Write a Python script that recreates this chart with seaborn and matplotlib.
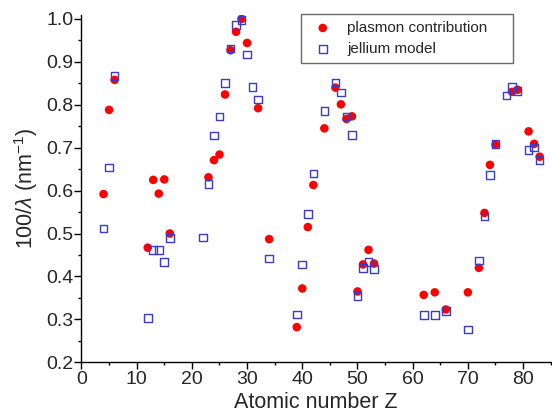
import numpy as np
import pandas as pd
import matplotlib
matplotlib.use('Agg')
import matplotlib.pyplot as plt
from matplotlib.ticker import MultipleLocator, FormatStrFormatter
import seaborn as sns

# plasmon contribution (filled red circles)
z_plasmon = [4, 5, 6, 12, 13, 14, 15, 16, 23, 24, 25, 26, 27, 28, 29, 30, 32, 34,
             39, 40, 41, 42, 44, 46, 47, 48, 49, 50, 51, 52, 53, 62, 64, 66, 70,
             72, 73, 74, 75, 78, 79, 81, 82, 83]
v_plasmon = [0.592, 0.788, 0.858, 0.467, 0.625, 0.593, 0.626, 0.500, 0.631, 0.671,
             0.684, 0.824, 0.927, 0.970, 1.000, 0.944, 0.792, 0.487, 0.282, 0.372,
             0.515, 0.613, 0.745, 0.840, 0.801, 0.767, 0.773, 0.365, 0.428, 0.462,
             0.430, 0.357, 0.363, 0.323, 0.363, 0.420, 0.548, 0.660, 0.707, 0.830,
             0.835, 0.738, 0.709, 0.679]

# jellium model (open blue squares)
z_jellium = [4, 5, 6, 12, 13, 14, 15, 16, 22, 23, 24, 25, 26, 27, 28, 29, 30, 31,
             32, 34, 39, 40, 41, 42, 44, 46, 47, 48, 49, 50, 51, 52, 53, 62, 64, 66,
             70, 72, 73, 74, 75, 77, 78, 79, 81, 82, 83]
v_jellium = [0.512, 0.654, 0.867, 0.303, 0.462, 0.462, 0.434, 0.490, 0.491, 0.615,
             0.728, 0.773, 0.850, 0.931, 0.986, 0.998, 0.917, 0.842, 0.812, 0.442,
             0.311, 0.428, 0.545, 0.640, 0.785, 0.852, 0.829, 0.773, 0.729, 0.354,
             0.420, 0.434, 0.417, 0.310, 0.310, 0.319, 0.276, 0.437, 0.540, 0.636,
             0.709, 0.822, 0.842, 0.832, 0.695, 0.700, 0.672]

plasmon = pd.DataFrame({'Z': z_plasmon, 'val': v_plasmon})
jellium = pd.DataFrame({'Z': z_jellium, 'val': v_jellium})

sns.set_style('ticks')
plt.rcParams['font.family'] = ['Liberation Sans', 'DejaVu Sans']
plt.rcParams['mathtext.fontset'] = 'custom'
plt.rcParams['mathtext.rm'] = 'Liberation Sans'
plt.rcParams['mathtext.it'] = 'Liberation Sans:italic'

fig = plt.figure(figsize=(5.52, 4.15), dpi=100)
ax = fig.add_axes([0.1476, 0.127, 0.850, 0.8357])

sns.scatterplot(data=plasmon, x='Z', y='val', ax=ax, color='#ff0000', marker='o',
                s=38, edgecolor='none', label='plasmon contribution', zorder=3)
sns.scatterplot(data=jellium, x='Z', y='val', ax=ax, marker='s', s=30,
                facecolor='none', edgecolor='#3a3acc', linewidth=1.0,
                label='jellium model', zorder=4)

ax.set_xlim(0, 85)
ax.set_ylim(0.2, 1.008)
ax.xaxis.set_major_locator(MultipleLocator(10))
ax.xaxis.set_minor_locator(MultipleLocator(5))
ax.yaxis.set_major_locator(MultipleLocator(0.1))
ax.yaxis.set_minor_locator(MultipleLocator(0.05))
ax.yaxis.set_major_formatter(FormatStrFormatter('%.1f'))
ax.tick_params(which='major', direction='out', length=5, width=1, labelsize=14,
               color='black', pad=1)
ax.tick_params(which='minor', direction='out', length=2.5, width=1, color='black')

for s in ['top', 'right']:
    ax.spines[s].set_visible(False)
for s in ['left', 'bottom']:
    ax.spines[s].set_color('black')
    ax.spines[s].set_linewidth(1)

ax.set_xlabel('Atomic number Z', fontsize=15.5, labelpad=3)
ax.set_ylabel('100/$\\lambda$ (nm$^{-1}$)', fontsize=15.5, labelpad=4)

leg = ax.legend(loc='upper left', bbox_to_anchor=(0.467, 0.5, 0.4535, 0.504),
                mode='expand', borderaxespad=0, fontsize=11,
                frameon=True, fancybox=False, edgecolor='#444444',
                handletextpad=0.6, borderpad=0.45, labelspacing=0.45)
leg.get_frame().set_linewidth(1)

fig.savefig('out.png', dpi=100)
